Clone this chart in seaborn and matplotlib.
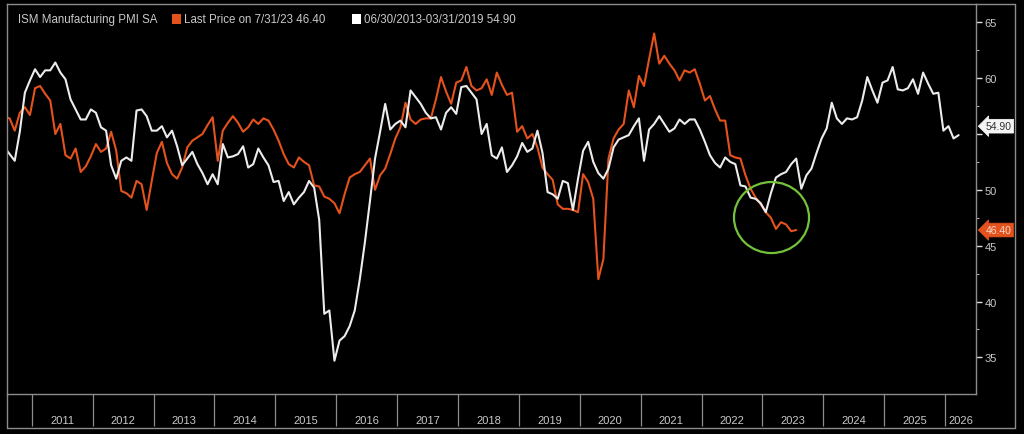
import matplotlib
matplotlib.use("Agg")
import numpy as np
import pandas as pd
import matplotlib.pyplot as plt
import matplotlib.ticker as mticker
from matplotlib.patches import Ellipse
from matplotlib.lines import Line2D
from matplotlib.patches import Rectangle
import seaborn as sns

# ---------------- data ----------------
# ISM Manufacturing PMI SA, monthly, Jul 2010 .. Jul 2023
ism_start = "2010-07"
ism_values = [
    56.5, 56.4, 55.3, 56.9, 57.4, 56.7,
    59.1, 59.3, 58.6, 58.0, 55.0, 55.9, 53.1, 52.8, 53.7, 51.6, 52.1, 53.0,
    54.1, 53.4, 53.7, 55.2, 53.5, 49.9, 49.7, 49.3, 50.8, 50.5, 48.2, 50.8,
    53.3, 54.3, 52.4, 51.4, 51.0, 52.0, 53.8, 54.4, 54.7, 55.0, 55.8, 56.5,
    52.6, 55.3, 56.0, 56.6, 56.0, 55.2, 55.6, 56.3, 55.9, 56.4, 56.2, 55.4,
    54.4, 53.2, 52.3, 52.0, 52.9, 52.5, 52.2, 50.4, 50.3, 49.4, 49.2, 48.8,
    47.9, 49.6, 51.1, 51.4, 51.6, 52.2, 52.8, 50.0, 51.3, 51.9, 53.2, 54.6,
    55.6, 57.8, 56.3, 55.9, 56.3, 56.4, 56.4, 58.1, 60.1, 58.8, 57.7, 59.6,
    59.8, 61.0, 59.3, 58.9, 59.1, 59.9, 58.5, 60.5, 59.4, 58.5, 58.7, 55.2,
    55.7, 54.6, 55.0, 53.8, 52.0, 51.4, 50.9, 48.7, 48.3, 48.3, 48.2, 48.0,
    51.4, 50.7, 49.2, 42.0, 43.8, 52.8, 54.6, 55.4, 55.9, 58.9, 57.4, 60.2,
    59.3, 61.7, 64.0, 61.3, 62.0, 61.3, 60.7, 59.8, 60.7, 60.5, 60.8, 59.5,
    58.0, 58.4, 57.2, 56.2, 56.2, 53.1, 52.9, 52.8, 51.3, 50.1, 49.3, 48.7,
    48.0, 47.5, 46.5, 47.1, 46.9, 46.3, 46.4,
]

# comparison path (06/30/2013-03/31/2019), monthly, Jul 2010 .. Mar 2026
cmp_start = "2010-07"
cmp_values = [
    53.8, 53.2, 52.6, 55.2, 58.7, 59.8,
    60.8, 60.1, 60.7, 60.7, 61.4, 60.5, 59.9, 58.1, 57.2, 56.3, 56.3, 57.2,
    56.9, 55.6, 55.3, 52.2, 51.0, 52.6, 52.9, 52.6, 57.1, 57.2, 56.6, 55.3,
    55.3, 55.7, 54.7, 55.3, 53.9, 52.2, 52.8, 53.4, 52.3, 51.5, 50.5, 51.4,
    50.5, 54.1, 52.9, 53.0, 53.2, 53.9, 52.0, 52.3, 53.7, 52.9, 52.2, 50.7,
    50.8, 49.0, 49.8, 48.7, 49.3, 49.8, 50.8, 50.2, 47.3, 38.9, 39.2, 34.7,
    36.5, 36.9, 37.8, 39.2, 42.0, 45.3, 49.0, 52.8, 55.2, 57.7, 55.4, 55.9,
    56.2, 55.6, 58.9, 58.3, 57.7, 56.9, 56.4, 56.5, 55.4, 56.9, 57.4, 56.8,
    59.2, 59.3, 58.7, 58.1, 55.0, 55.9, 53.1, 52.8, 53.8, 51.6, 52.2, 53.0,
    54.2, 53.4, 53.7, 55.3, 53.3, 49.8, 49.6, 49.2, 50.8, 50.6, 48.2, 51.0,
    53.5, 54.3, 52.5, 51.5, 51.0, 51.9, 53.8, 54.5, 54.7, 54.9, 55.7, 56.4,
    52.6, 55.4, 55.9, 56.6, 55.9, 55.2, 55.5, 56.3, 55.9, 56.3, 56.3, 55.4,
    54.3, 53.1, 52.4, 52.0, 52.9, 52.5, 52.3, 50.4, 50.3, 49.3, 49.2, 48.8,
    48.0, 49.7, 51.1, 51.4, 51.6, 52.3, 52.8, 50.1, 51.3, 51.9, 53.3, 54.6,
    55.5, 57.8, 56.4, 55.9, 56.4, 56.3, 56.5, 58.0, 60.1, 58.9, 57.8, 59.6,
    59.8, 61.0, 59.0, 58.9, 59.1, 59.9, 58.6, 60.5, 59.5, 58.6, 58.7, 55.3,
    55.7, 54.6, 54.9,
]

series_names = ["ISM Manufacturing PMI SA", "06/30/2013-03/31/2019"]
legend_texts = ["ISM Manufacturing PMI SA",
                "Last Price on 7/31/23 46.40",
                "06/30/2013-03/31/2019 54.90"]
last_labels = ["46.40", "54.90"]
year_labels = list(range(2011, 2027))
y_ticks = [35, 40, 45, 50, 55, 60, 65]
y_tick_labels = ["35", "40", "45", "50", "", "60", "65"]  # 55 hidden under the tag

# ---------------- styling ----------------
BG = "#000000"
ORANGE = "#e4521d"
WHITE = "#ececec"
FRAME = "#8c8c8c"
TXT = "#c9c9c9"
GREEN = "#74c23a"

sns.set_style("dark")
plt.rcParams["font.family"] = ["Liberation Sans", "DejaVu Sans"]
plt.rcParams["axes.facecolor"] = BG
plt.rcParams["figure.facecolor"] = BG


def month_positions(start, n):
    d = pd.period_range(start=start, periods=n, freq="M")
    # points sit a little before month end
    return d.year + (d.month - 0.35) / 12.0


df = pd.concat([
    pd.DataFrame({"t": month_positions(ism_start, len(ism_values)),
                  "value": ism_values, "series": series_names[0]}),
    pd.DataFrame({"t": month_positions(cmp_start, len(cmp_values)),
                  "value": cmp_values, "series": series_names[1]}),
], ignore_index=True)

W, H = 1024, 435
fig = plt.figure(figsize=(W / 100, H / 100), dpi=100)
ax = fig.add_axes([7 / W, 40 / H, 969 / W, 390 / H])
ax.set_facecolor(BG)

sns.lineplot(data=df, x="t", y="value", hue="series", hue_order=series_names,
             palette=[ORANGE, WHITE], linewidth=1.5, legend=False,
             sort=False, estimator=None, ax=ax)

ax.set_xlim(2010.594, 2026.506)
ax.set_ylim(31.72, 66.64)
ax.set_xlabel("")
ax.set_ylabel("")
ax.grid(False)

for s in ax.spines.values():
    s.set_color(FRAME)
    s.set_linewidth(1.0)
    s.set_visible(True)

# right value axis
ax.yaxis.tick_right()
ax.yaxis.set_major_locator(mticker.FixedLocator(y_ticks))
ax.yaxis.set_major_formatter(mticker.FixedFormatter(y_tick_labels))
ax.yaxis.set_minor_locator(mticker.FixedLocator([v + 2.5 for v in y_ticks[:-1]]))
ax.tick_params(axis="y", which="both", left=False, right=True,
               labelleft=False, labelright=True)
ax.tick_params(axis="y", which="major", direction="out", length=4, width=1.0,
               color="#dddddd", labelcolor=TXT, labelsize=8, pad=2)
ax.tick_params(axis="y", which="minor", direction="out", length=2, width=0.8,
               color="#aaaaaa")

# bottom year axis: separators at year starts, labels centered in each year
xmax = ax.get_xlim()[1]
ax.xaxis.set_major_locator(mticker.FixedLocator(year_labels))
mids = [(y + min(y + 1, xmax)) / 2 for y in year_labels]
ax.xaxis.set_minor_locator(mticker.FixedLocator(mids))
ax.xaxis.set_major_formatter(mticker.NullFormatter())
ax.xaxis.set_minor_formatter(mticker.FixedFormatter([str(y) for y in year_labels]))
ax.tick_params(axis="x", which="both", bottom=True, labelbottom=True)
ax.tick_params(axis="x", which="major", direction="out", length=23, width=0.9,
               color=FRAME)
ax.tick_params(axis="x", which="minor", length=0, labelcolor=TXT, labelsize=8,
               pad=15)

# outer frame around the date band and right scale
fig.add_artist(Line2D([7 / W, 1015 / W], [1 - 429 / H, 1 - 429 / H],
                      color=FRAME, lw=1.0))
fig.add_artist(Line2D([7 / W, 7 / W], [1 - 429 / H, 1 - 395 / H],
                      color=FRAME, lw=1.0))
fig.add_artist(Line2D([1015 / W, 1015 / W], [1 - 429 / H, 1 - 5 / H],
                      color=FRAME, lw=1.0))
fig.add_artist(Line2D([976 / W, 1015 / W], [1 - 5 / H, 1 - 5 / H],
                      color=FRAME, lw=1.0))

# last value tags
yt = ax.get_yaxis_transform()
ax.annotate(last_labels[0], xy=(1.0, ism_values[-1]), xycoords=yt,
            xytext=(7, 0), textcoords="offset points", ha="left", va="center",
            fontsize=7.5, color="#f6d6c8", annotation_clip=False, zorder=10,
            bbox=dict(boxstyle="larrow,pad=0.18", fc=ORANGE, ec=ORANGE, lw=0.5))
ax.annotate(last_labels[1], xy=(1.0, cmp_values[-1] + 0.8), xycoords=yt,
            xytext=(7, 0), textcoords="offset points", ha="left", va="center",
            fontsize=7.5, color="#333333", annotation_clip=False, zorder=10,
            bbox=dict(boxstyle="larrow,pad=0.18", fc="#f4f4f4", ec="#ffffff", lw=0.5))

# highlight circle
ax.add_patch(Ellipse((2023.148, 47.52), 1.232, 6.36, fill=False,
                     ec=GREEN, lw=1.6, zorder=5))

# legend row
ly = 1 - 20 / H
fig.text(18 / W, ly, legend_texts[0], color=TXT, fontsize=8.3, va="center")
fig.add_artist(Rectangle((172 / W, ly - 5 / H), 9 / W, 10 / H,
                         transform=fig.transFigure, fc=ORANGE, ec="none"))
fig.text(184 / W, ly, legend_texts[1], color=TXT, fontsize=8.3, va="center")
fig.add_artist(Rectangle((352 / W, ly - 5 / H), 9 / W, 10 / H,
                         transform=fig.transFigure, fc="#ffffff", ec="none"))
fig.text(364 / W, ly, legend_texts[2], color=TXT, fontsize=8.3, va="center")

fig.savefig("out.png", dpi=100, facecolor=BG)
